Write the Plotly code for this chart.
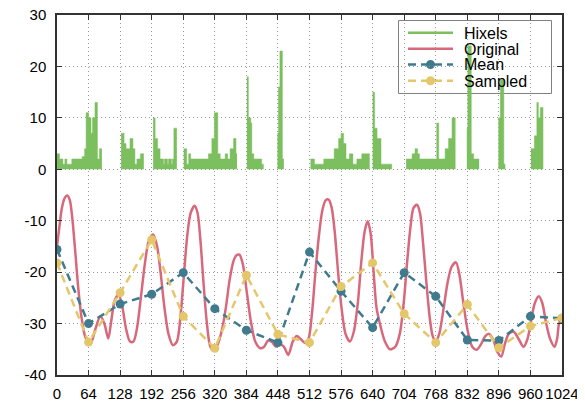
import plotly.graph_objects as go

# ---------------- data ----------------
# Hixels: step heights, segments separated by None
hixel_x = [0, 5, 12, 16, 20, 30, 51, 56, 59, 64, 69, 72, 77, 82, 86, 91, None,
           130, 136, 140, 148, 154, 158, 162, 169, 176, None,
           195, 199, 204, 209, 216, 218, 224, 226, 232, 234, 237, 243, None,
           257, 263, 267, 271, 307, 314, 319, 326, 331, 341, 346, 351, 358, 363, 365, None,
           385, 388, 393, 395, 399, 415, 419, None,
           447, 449, 452, 457, 460, None,
           514, 522, 541, 562, 571, 576, 581, 586, 593, 600, 608, 618, 634, None,
           640, 644, 649, 657, 679, None,
           708, 720, 726, 731, 735, 770, 774, 787, 794, 801, 808, None,
           831, 833, 840, 845, 856, None,
           895, 899, 906, 909, None,
           961, 968, 973, 976, 980, 986]
hixel_y = [3, 2, 1, 2, 1, 2, 2.5, 4, 11, 10, 7, 10, 13, 2, 4, 4, None,
           7, 5, 4, 6, 4, 1, 2, 3, 3, None,
           10, 6, 4, 2, 1, 2, 1, 2, 1, 2, 8, 8, None,
           4, 1, 3, 2, 3, 6, 11, 3, 2, 3, 2, 4, 6, 3, 3, None,
           18, 10, 9, 3, 2, 1, 1, None,
           7, 16, 23, 2, 2, None,
           2, 1, 2, 4, 6, 7, 5, 2, 3, 1, 2, 3, 3, None,
           15, 8, 6, 1, 1, None,
           2, 3, 4, 3, 2, 9, 2, 4, 6, 10, 10, None,
           8, 24, 3, 2, 2, None,
           10, 17.5, 1, 1, None,
           4, 6.5, 13, 10, 12, 12]

orig_x = [0, 5, 10, 15, 21, 26, 31, 37, 43, 50, 57, 64, 70, 78, 88, 96, 104, 110, 117, 125,
          132, 140, 148, 155, 162, 170, 178, 186, 195, 203, 210, 218, 226, 235, 243, 250,
          257, 264, 271, 279, 285, 291, 297, 304, 311, 318, 326, 335, 343, 350, 358, 364,
          370, 377, 385, 393, 402, 412, 420, 428, 436, 444, 452, 460, 469, 478, 486, 494,
          503, 510, 517, 524, 531, 538, 545, 551, 557, 563, 570, 577, 585, 594, 602, 610,
          617, 624, 630, 636, 642, 648, 656, 665, 675, 686, 695, 703, 710, 717, 723, 730,
          736, 742, 749, 756, 762, 768, 775, 784, 792, 800, 809, 816, 824, 833, 842, 851,
          860, 868, 876, 884, 893, 901, 908, 916, 926, 936, 946, 954, 962, 969, 977, 984,
          992, 1000, 1009, 1014, 1018, 1024]
orig_y = [-15, -11, -7.5, -5.7, -5.1, -6, -9.5, -16, -23, -29, -32.5, -33.7, -33.5, -31, -28.6,
          -30, -32.9, -29.5, -25.5, -24.4, -26.5, -31, -33.5, -33.5, -31, -25, -18.5, -14,
          -12.7, -15, -20, -27, -32, -34.2, -33.5, -29, -21, -13, -8.5, -7.1, -8.5, -14, -22,
          -30, -34.5, -35.2, -34, -31, -26.5, -21.5, -17.8, -16.7, -16.6, -18.5, -24, -29.5,
          -33.5, -34.8, -34.5, -33.3, -33.6, -34.5, -34, -34.5, -36.1, -33.5, -32.4, -33,
          -33.8, -33, -28, -20, -13, -8, -6, -5.9, -7.5, -12, -20, -27, -32, -33.5, -31.5,
          -26, -18, -12, -10.1, -12.5, -20, -27, -30.5, -33.5, -35, -34.5, -32, -26, -18,
          -11, -7.5, -6.9, -8.5, -14, -22, -29, -32.5, -33.5, -32, -27, -22, -19, -18.1,
          -20.5, -26, -31.5, -34.5, -35.1, -34, -32.5, -32, -33, -35.5, -36.4, -34, -32,
          -31.6, -33, -34.5, -33, -29, -26, -24.7, -26, -30, -33, -34.5, -33, -30, -28.8]

sample_x = [0, 64, 128, 192, 256, 320, 384, 448, 512, 576, 640, 704, 768, 832, 896, 960, 1024]
mean_y = [-15.6, -30.0, -26.2, -24.3, -20.1, -27.1, -31.3, -33.7, -16.1, -23.7, -30.8,
          -20.1, -24.7, -33.2, -33.3, -28.6, -29.0]
sampled_y = [-18.2, -33.6, -24.0, -13.7, -28.6, -34.8, -20.6, -32.1, -33.7, -22.8, -18.2,
             -28.1, -33.7, -26.3, -34.7, -30.5, -28.9]

x_ticks = [0, 64, 128, 192, 256, 320, 384, 448, 512, 576, 640, 704, 768, 832, 896, 960, 1024]
y_ticks = [30, 20, 10, 0, -10, -20, -30, -40]
y_tick_labels = ["30", "20", "10", "0", "-10", "-20", "-30", "-40"]

series_names = ["Hixels", "Original", "Mean", "Sampled"]
GREEN = "#7cbf5f"
RED = "#d8687b"
BLUE = "#3f7b8d"
YELLOW = "#e5c76b"
FONT = "Liberation Sans, Arial, sans-serif"

fig = go.Figure()

# split the Hixels steps into their separate runs so each fills down to zero on its own
segments = []
cur_x, cur_y = [], []
for xv, yv in zip(hixel_x, hixel_y):
    if xv is None:
        segments.append((cur_x, cur_y))
        cur_x, cur_y = [], []
    else:
        cur_x.append(xv)
        cur_y.append(yv)
if cur_x:
    segments.append((cur_x, cur_y))
for k, (sx, sy) in enumerate(segments):
    fig.add_trace(go.Scatter(x=sx, y=sy, mode="lines", line_shape="hv",
                             line=dict(color=GREEN, width=0.5), fill="tozeroy",
                             fillcolor=GREEN, name=series_names[0], legendgroup="hix",
                             showlegend=False))

fig.add_trace(go.Scatter(x=orig_x, y=orig_y, mode="lines", line_shape="spline",
                         line=dict(color=RED, width=2.5, smoothing=0.8), name=series_names[1],
                         showlegend=False))
fig.add_trace(go.Scatter(x=sample_x, y=mean_y, mode="lines+markers",
                         line=dict(color=BLUE, width=2.5, dash="8px,5px"),
                         marker=dict(color=BLUE, size=9), name=series_names[2],
                         showlegend=False))
fig.add_trace(go.Scatter(x=sample_x, y=sampled_y, mode="lines+markers",
                         line=dict(color=YELLOW, width=2.5, dash="8px,5px"),
                         marker=dict(color=YELLOW, size=9), name=series_names[3],
                         showlegend=False))

# ---------------- layout geometry (page body adds an 8px offset) ----------------
OFF = 8
W, H = 505, 360            # plot area size
L, T = 57, 15              # plot area top-left in the page
FIG_W, FIG_H = 585 - OFF, 401 - OFF

def px(xp):
    return (xp - L) / W
def py(yp):
    return (T + H - yp) / H

shapes = [dict(type="rect", xref="paper", yref="paper", layer="between",
               x0=px(398.5), x1=px(551.5), y0=py(93.5), y1=py(20.5),
               line=dict(color="#808080", width=1), fillcolor="white")]
row_y = [32.7, 48.7, 64.5, 80.7]
colors = [GREEN, RED, BLUE, YELLOW]
dashes = ["solid", "solid", "8px,5px", "8px,5px"]
annotations = []
for i, name in enumerate(series_names):
    shapes.append(dict(type="line", xref="paper", yref="paper", layer="between",
                       x0=px(408), x1=px(453), y0=py(row_y[i]), y1=py(row_y[i]),
                       line=dict(color=colors[i], width=2.5, dash=dashes[i])))
    if i >= 2:
        shapes.append(dict(type="circle", xref="paper", yref="paper", layer="between",
                           xsizemode="pixel", ysizemode="pixel",
                           xanchor=px(430.5), yanchor=py(row_y[i]),
                           x0=-4.5, x1=4.5, y0=-4.5, y1=4.5,
                           line=dict(width=0), fillcolor=colors[i]))
    annotations.append(dict(xref="paper", yref="paper", x=px(462), y=py(row_y[i] + 0.3),
                            xanchor="left", yanchor="middle", text=name, showarrow=False,
                            font=dict(family=FONT, size=16, color="black")))

axis_common = dict(showline=True, linecolor="#333333", linewidth=1.5, mirror="allticks",
                   ticks="inside", ticklen=5, tickcolor="#333333", tickwidth=1,
                   showgrid=True, gridcolor="#999999", griddash="1px,3px", gridwidth=1,
                   zeroline=False, automargin=False, ticklabeloverflow="allow",
                   tickfont=dict(family=FONT, size=15, color="black"))

fig.update_xaxes(range=[0, 1024], tickvals=x_ticks, ticktext=[str(v) for v in x_ticks],
                 tickangle=0, ticklabelstandoff=4, **axis_common)
fig.update_yaxes(range=[-40, 30], tickvals=y_ticks, ticktext=y_tick_labels,
                 ticklabelstandoff=6, **axis_common)

fig.update_layout(width=FIG_W, height=FIG_H,
                  margin=dict(l=L - OFF, r=FIG_W - (L - OFF) - W, t=T - OFF,
                              b=FIG_H - (T - OFF) - H),
                  paper_bgcolor="white", plot_bgcolor="white", showlegend=False,
                  shapes=shapes, annotations=annotations,
                  font=dict(family=FONT, size=15, color="black"))

fig.write_html("out.html")
